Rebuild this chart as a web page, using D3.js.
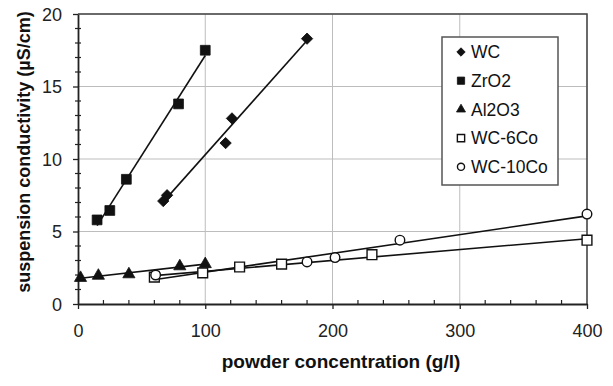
<!DOCTYPE html>
<html>
<head>
<meta charset="utf-8">
<script src="https://cdn.jsdelivr.net/npm/d3@7"></script>
<style>
  html, body { margin: 0; padding: 0; background: #fff; }
  svg { display: block; font-family: "Liberation Sans", Arial, sans-serif; }
</style>
</head>
<body>
<svg id="chart" width="613" height="386"></svg>
<script>
// ── Data ──────────────────────────────────────────────────────────────────────

const seriesNames = ['WC', 'ZrO2', 'Al2O3', 'WC-6Co', 'WC-10Co'];

const wc     = [[67, 7.1], [70, 7.5], [116, 11.1], [121, 12.8], [180, 18.3]];
const zro2   = [[15, 5.8], [25, 6.45], [38, 8.6], [79, 13.8], [100, 17.5]];
const al2o3  = [[2, 1.8], [16, 1.95], [40, 2.05], [80, 2.6], [100, 2.75]];
const wc6co  = [[60, 1.85], [98, 2.15], [127, 2.55], [160, 2.75], [231, 3.4], [400, 4.4]];
const wc10co = [[61, 2.0], [180, 2.9], [202, 3.2], [253, 4.4], [400, 6.2]];

const xTicks = [0, 100, 200, 300, 400];
const yTicks = [0, 5, 10, 15, 20];

const xTitle = 'powder concentration (g/l)';
const yTitle = 'suspension conductivity (µS/cm)';

// ── Layout ────────────────────────────────────────────────────────────────────

const plot = { left: 78, right: 587, top: 14, bottom: 304 };

const svg = d3.select('#chart');

const x = d3.scaleLinear().domain([0, 400]).range([plot.left, plot.right]);
const y = d3.scaleLinear().domain([0, 20]).range([plot.bottom, plot.top]);

// gridlines
svg.append('g')
  .selectAll('line').data(xTicks.slice(1)).join('line')
  .attr('x1', d => x(d)).attr('x2', d => x(d))
  .attr('y1', plot.top).attr('y2', plot.bottom)
  .attr('stroke', '#bdbdbd').attr('stroke-width', 1);

svg.append('g')
  .selectAll('line').data(yTicks.slice(1)).join('line')
  .attr('x1', plot.left).attr('x2', plot.right)
  .attr('y1', d => y(d)).attr('y2', d => y(d))
  .attr('stroke', '#bdbdbd').attr('stroke-width', 1);

// frame (top + right)
svg.append('path')
  .attr('d', `M${plot.left},${plot.top}H${plot.right}V${plot.bottom}`)
  .attr('fill', 'none').attr('stroke', '#444').attr('stroke-width', 1.5);

// axes
const xAxis = svg.append('g')
  .attr('transform', `translate(0,${plot.bottom})`)
  .call(d3.axisBottom(x).tickValues(xTicks).tickSize(5).tickPadding(15).tickSizeOuter(0));

const yAxis = svg.append('g')
  .attr('transform', `translate(${plot.left},0)`)
  .call(d3.axisLeft(y).tickValues(yTicks).tickSize(5).tickPadding(11).tickSizeOuter(0));

[xAxis, yAxis].forEach(a => {
  a.select('.domain').attr('stroke', '#222').attr('stroke-width', 1.8);
  a.selectAll('.tick line').attr('stroke', '#222').attr('stroke-width', 1.3);
  a.selectAll('.tick text')
    .attr('font-size', '18px')
    .attr('font-family', '"Liberation Sans", Arial, sans-serif')
    .attr('fill', '#222');
});
yAxis.selectAll('.tick text').attr('dy', '0.36em');

// minor ticks (inside)
svg.append('g')
  .selectAll('line').data(d3.range(20, 400, 20).filter(v => v % 100)).join('line')
  .attr('x1', d => x(d)).attr('x2', d => x(d))
  .attr('y1', plot.bottom).attr('y2', plot.bottom - 4)
  .attr('stroke', '#222').attr('stroke-width', 1.2);

svg.append('g')
  .selectAll('line').data(d3.range(1, 20).filter(v => v % 5)).join('line')
  .attr('x1', plot.left - 3).attr('x2', plot.left + 3)
  .attr('y1', d => y(d)).attr('y2', d => y(d))
  .attr('stroke', '#222').attr('stroke-width', 1.2);

// axis titles
svg.append('text')
  .attr('x', 341).attr('y', 368)
  .attr('text-anchor', 'middle')
  .attr('font-size', '19px').attr('font-weight', 'bold').attr('fill', '#111')
  .text(xTitle);

svg.append('text')
  .attr('transform', 'translate(30,152) rotate(-90)')
  .attr('text-anchor', 'middle')
  .attr('font-size', '18px').attr('font-weight', 'bold').attr('fill', '#111')
  .text(yTitle);

// ── Trendlines ────────────────────────────────────────────────────────────────

function fitLine(pts) {
  const mx = d3.mean(pts, p => p[0]);
  const my = d3.mean(pts, p => p[1]);
  const sxy = d3.sum(pts, p => (p[0] - mx) * (p[1] - my));
  const sxx = d3.sum(pts, p => (p[0] - mx) ** 2);
  const b = sxy / sxx;
  const [x0, x1] = d3.extent(pts, p => p[0]);
  return [[x0, my + b * (x0 - mx)], [x1, my + b * (x1 - mx)]];
}

const allSeries = [
  { name: 'WC',      pts: wc,     shape: 'diamond',  fill: '#111' },
  { name: 'ZrO2',    pts: zro2,   shape: 'square',   fill: '#111' },
  { name: 'Al2O3',   pts: al2o3,  shape: 'triangle', fill: '#111' },
  { name: 'WC-6Co',  pts: wc6co,  shape: 'square',   fill: '#fff' },
  { name: 'WC-10Co', pts: wc10co, shape: 'circle',   fill: '#fff' },
];

const line = d3.line().x(d => x(d[0])).y(d => y(d[1]));

svg.append('g')
  .selectAll('path').data(allSeries).join('path')
  .attr('d', s => line(fitLine(s.pts)))
  .attr('fill', 'none').attr('stroke', '#111').attr('stroke-width', 1.6);

// ── Markers ───────────────────────────────────────────────────────────────────

function markerPath(shape, size) {
  const t = { diamond: d3.symbolSquare, square: d3.symbolSquare,
              triangle: d3.symbolTriangle, circle: d3.symbolCircle }[shape];
  return d3.symbol(t, size)();
}

function drawMarker(g, s, cx, cy, scale) {
  const size = { diamond: 64, square: 96, triangle: 64, circle: 72 }[s.shape] * scale;
  const rot = s.shape === 'diamond' ? ' rotate(45)' : '';
  g.append('path')
    .attr('d', markerPath(s.shape, size))
    .attr('transform', `translate(${cx},${cy})${rot}`)
    .attr('fill', s.fill)
    .attr('stroke', '#111')
    .attr('stroke-width', s.fill === '#fff' ? 1.4 : 0.8);
}

allSeries.forEach(s => {
  const g = svg.append('g');
  s.pts.forEach(p => drawMarker(g, s, x(p[0]), y(p[1]), 1));
});

// ── Legend ────────────────────────────────────────────────────────────────────

const legend = svg.append('g');
legend.append('rect')
  .attr('x', 442).attr('y', 37).attr('width', 116).attr('height', 148)
  .attr('fill', '#fff').attr('stroke', '#555').attr('stroke-width', 1.5);

allSeries.forEach((s, i) => {
  const cy = 52 + i * 28.7;
  drawMarker(legend, s, 461, cy, 0.55);
  legend.append('text')
    .attr('x', 471).attr('y', cy).attr('dy', '0.36em')
    .attr('font-size', '17.5px').attr('fill', '#111')
    .text(seriesNames[i]);
});
</script>
</body>
</html>
